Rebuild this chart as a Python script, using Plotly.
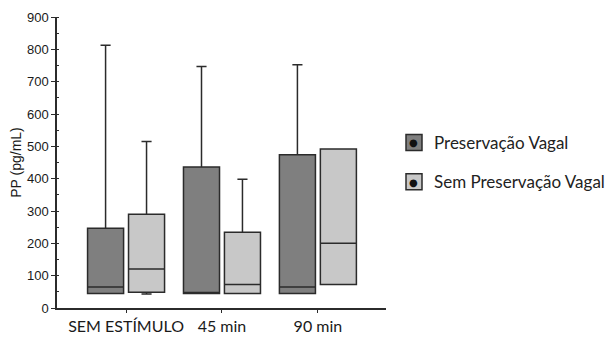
import plotly.graph_objects as go

categories = ["SEM ESTÍMULO", "45 min", "90 min"]
series_names = ["Preservação Vagal", "Sem Preservação Vagal"]

pv_lower = [45, 45, 45]
pv_q1 = [45, 45, 45]
pv_median = [65, 47, 65]
pv_q3 = [247, 436, 474]
pv_upper = [813, 747, 752]

spv_lower = [43, 45, 73]
spv_q1 = [49, 45, 73]
spv_median = [121, 73, 200]
spv_q3 = [290, 234, 492]
spv_upper = [515, 398, 492]

y_ticks = [0, 100, 200, 300, 400, 500, 600, 700, 800, 900]

fills = ["#7f7f7f", "#c8c8c8"]
edge = "#2b2b2b"

fig = go.Figure()
stats = [
    (pv_lower, pv_q1, pv_median, pv_q3, pv_upper),
    (spv_lower, spv_q1, spv_median, spv_q3, spv_upper),
]
for i, (lo, q1, med, q3, up) in enumerate(stats):
    fig.add_trace(go.Box(
        x=categories, q1=q1, median=med, q3=q3,
        lowerfence=lo, upperfence=up,
        name=series_names[i], offsetgroup=str(i),
        fillcolor=fills[i], line=dict(color=edge, width=1.5),
        whiskerwidth=0.28, showlegend=False, hoverinfo="skip",
    ))
    fig.add_trace(go.Scatter(
        x=[None], y=[None], mode="markers", name=series_names[i],
        legendgroup=str(i),
        marker=dict(symbol="square", size=19, color=fills[i],
                    line=dict(color=edge, width=1.5)),
    ))

# figure sized to the visible area (page body has an 8px margin)
W, H = 606, 336
ml, mr, mt, mb = 49, 228, 9, 36
pw, ph = W - ml - mr, H - mt - mb

# black dots drawn inside the legend swatches (figure pixel coords)
dot_px = [(405, 134), (405, 174)]
annotations = []
for (px, py) in dot_px:
    annotations.append(dict(
        x=(px - ml) / pw, y=(H - mb - py) / ph, xref="paper", yref="paper",
        text="●", showarrow=False, xanchor="center", yanchor="middle",
        font=dict(size=10, color="#111", family="DejaVu Sans"),
    ))

fig.update_layout(
    width=W, height=H,
    margin=dict(l=ml, r=mr, t=mt, b=mb, autoexpand=False),
    paper_bgcolor="white", plot_bgcolor="white",
    boxmode="group", boxgap=0.146, boxgroupgap=0.12,
    showlegend=True,
    legend=dict(x=(386 - ml) / pw, xanchor="left", y=0.50, yanchor="middle",
                font=dict(family="Lato", size=17, color="#222"),
                tracegroupgap=14, itemsizing="trace"),
    font=dict(family="Liberation Sans", color="#222"),
    annotations=annotations,
)
fig.update_xaxes(
    type="category", range=[-0.72, 2.71], automargin=False,
    showline=True, linecolor=edge, linewidth=1.5,
    ticks="outside", ticklen=3, tickcolor=edge,
    tickfont=dict(family="Lato", size=16, color="#1a1a1a"),
    showgrid=False, zeroline=False,
)
fig.update_yaxes(
    range=[0, 900], tickvals=y_ticks, automargin=False,
    showline=True, linecolor=edge, linewidth=1.5,
    ticks="outside", ticklen=4, tickcolor=edge,
    minor=dict(dtick=50, ticks="inside", ticklen=2, tickcolor=edge),
    tickfont=dict(family="Liberation Sans", size=13, color="#1a1a1a"),
    title=dict(text="PP (pg/mL)", font=dict(family="Liberation Sans", size=14, color="#1a1a1a"), standoff=2),
    showgrid=False, zeroline=False,
)

fig.write_html("out.html")
